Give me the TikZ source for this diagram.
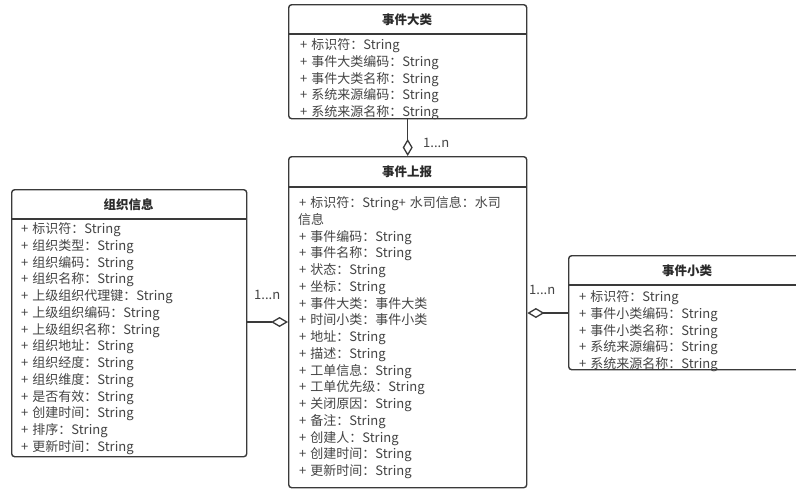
\documentclass[tikz,border=0pt]{standalone}
\usepackage{fontspec}
\setmainfont{Noto Sans CJK SC}
\usetikzlibrary{arrows.meta}
\definecolor{linec}{HTML}{3A3A3A}
\definecolor{textc}{HTML}{444444}
\definecolor{headc}{HTML}{2A2A2A}
\newcommand{\plusmark}{+\hspace{4pt}}
\begin{document}
\begin{tikzpicture}[x=1pt,y=-1pt,
  classbox/.style={draw=linec, line width=1.4pt, rounded corners=3pt, inner sep=0pt, anchor=north west},
  sepline/.style={draw=linec, line width=1.4pt},
  txt/.style={anchor=base west, inner sep=0pt, text=textc, font=\fontsize{13}{15}\selectfont},
  head/.style={inner sep=0pt, text=headc, font=\fontsize{12.5}{15}\selectfont\bfseries},
  agg/.style={draw=linec, line width=1.4pt, -{Diamond[open, length=17pt, width=10pt, line width=1.3pt]}},
  mult/.style={anchor=west, inner sep=0pt, text=textc, font=\fontsize{13}{15}\selectfont}]
\useasboundingbox[fill=white] (0,0) rectangle (796,488);

% text of 事件大类
\foreach \t [count=\i] in {标识符：String, 事件大类编码：String, 事件大类名称：String, 系统来源编码：String, 系统来源名称：String}
  \node[txt] (ta\i) at (300,{49.7+(\i-1)*16.75}) {\plusmark\t};
% text of 事件上报
\node[txt] (tm1) at (299,207.7) {\plusmark 标识符：String+\hspace{4pt}水司信息：水司};
\foreach \t [count=\i from 2] in {信息}
  \node[txt] (tm\i) at (298,{207.7+(\i-1)*16.75}) {\t};
\foreach \t [count=\i from 3] in {事件编码：String, 事件名称：String, 状态：String, 坐标：String, 事件大类：事件大类, 时间小类：事件小类, 地址：String, 描述：String, 工单信息：String, 工单优先级：String, 关闭原因：String, 备注：String, 创建人：String, 创建时间：String, 更新时间：String}
  \node[txt] (tm\i) at (299,{207.7+(\i-1)*16.75}) {\plusmark\t};
% text of 组织信息
\foreach \t [count=\i] in {标识符：String, 组织类型：String, 组织编码：String, 组织名称：String, 上级组织代理键：String, 上级组织编码：String, 上级组织名称：String, 组织地址：String, 组织经度：String, 组织维度：String, 是否有效：String, 创建时间：String, 排序：String, 更新时间：String}
  \node[txt] (tl\i) at (21,{233.7+(\i-1)*16.75}) {\plusmark\t};
% text of 事件小类
\foreach \t [count=\i] in {标识符：String, 事件小类编码：String, 事件小类名称：String, 系统来源编码：String, 系统来源名称：String}
  \node[txt] (tr\i) at (579,{301.7+(\i-1)*16.75}) {\plusmark\t};

% boxes
\node[classbox, minimum width=238pt, minimum height=114pt] (big) at (288,4) {};
\node[classbox, minimum width=238pt, minimum height=331pt] (rep) at (288,156) {};
\node[classbox, minimum width=235pt, minimum height=267pt] (org) at (11,189) {};
\node[classbox, minimum width=240pt, minimum height=114pt] (small) at (568,255) {};

% header separators
\draw[sepline] ([yshift=-30pt]big.north west) -- ([yshift=-30pt]big.north east);
\draw[sepline] ([yshift=-31pt]rep.north west) -- ([yshift=-31pt]rep.north east);
\draw[sepline] ([yshift=-30pt]org.north west) -- ([yshift=-30pt]org.north east);
\draw[sepline] ([yshift=-30pt]small.north west) -- ([yshift=-30pt]small.north east);

% headers
\node[head] (hbig) at (407,20) {事件大类};
\node[head] (hrep) at (407,172) {事件上报};
\node[head] (horg) at (128.5,205) {组织信息};
\node[head] (hsmall) at (687,271) {事件小类};

% connectors
\draw[agg] (big.south) -- (rep.north);
\coordinate (lc) at (246,322);
\coordinate (rc) at (568,313);
\draw[agg] (lc) -- (rep.west |- lc);
\draw[agg] (rc) -- (rep.east |- rc);

% multiplicities
\node[mult] (m1) at (423,143) {1...n};
\node[mult] (m2) at (254,295) {1...n};
\node[mult] (m3) at (529,290) {1...n};
\end{tikzpicture}
\end{document}
